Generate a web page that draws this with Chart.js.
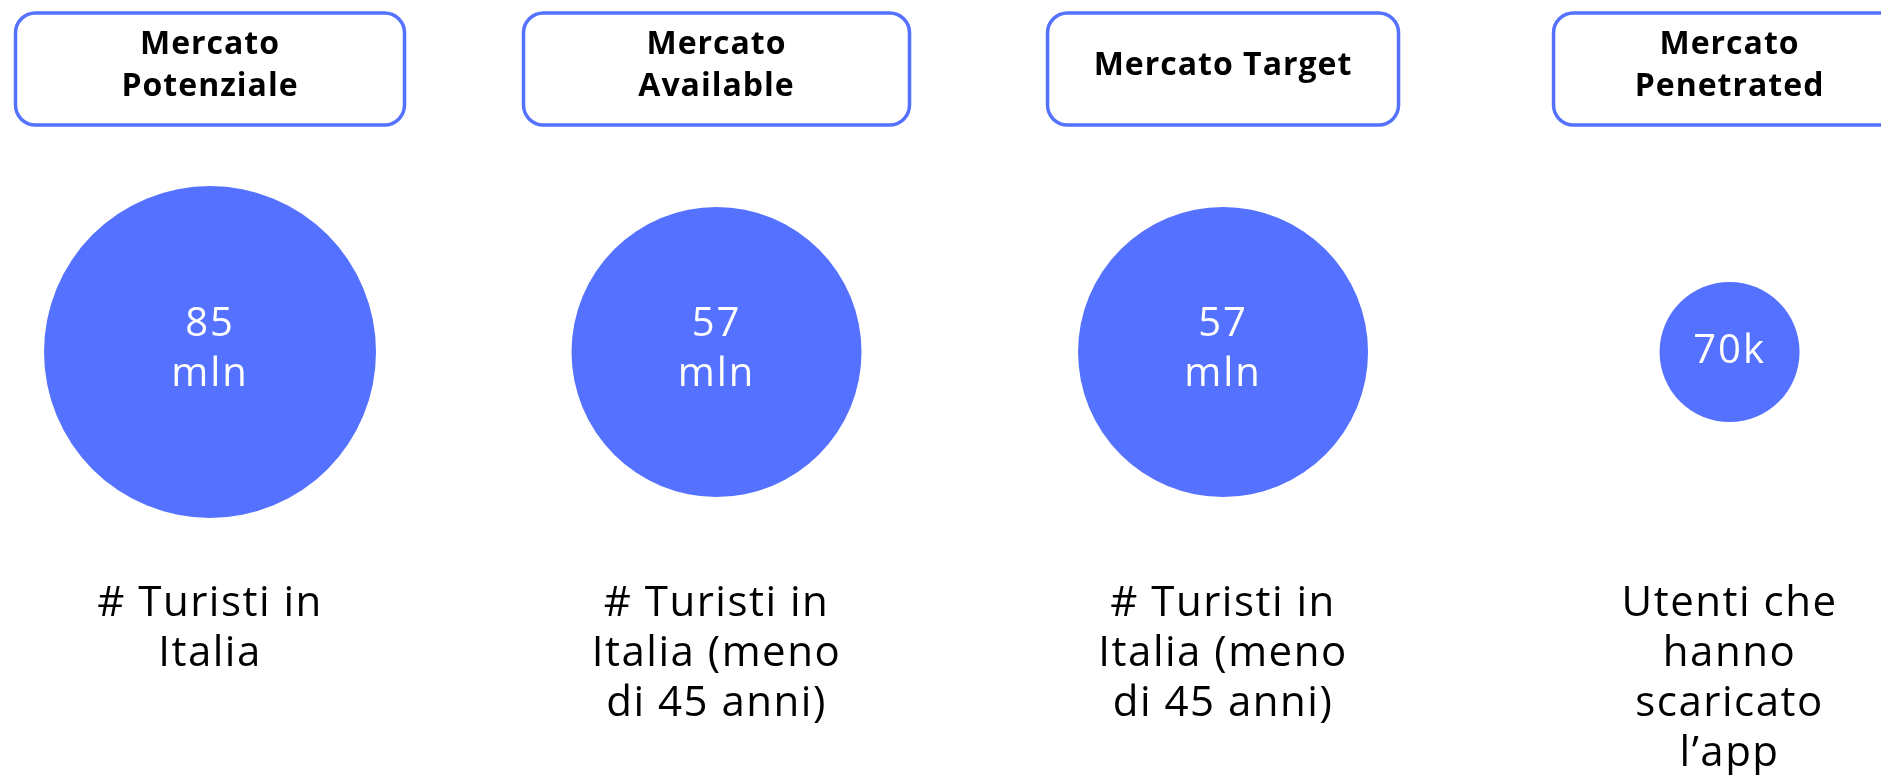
<!DOCTYPE html>
<html>
<head>
<meta charset="utf-8">
<script src="https://cdn.jsdelivr.net/npm/chart.js"></script>
<style>
  html, body { margin: 0; padding: 0; background: #ffffff; }
  #wrap { width: 1881px; height: 775px; }
</style>
</head>
<body>
<div id="wrap"><canvas id="funnel" width="1881" height="775"></canvas></div>
<script>
// Market sizing (TAM / SAM / SOM / penetrated) shown as bubbles

const categories = ['Mercato Potenziale', 'Mercato Available', 'Mercato Target', 'Mercato Penetrated'];
const headerLines = [['Mercato', 'Potenziale'], ['Mercato', 'Available'], ['Mercato Target'], ['Mercato', 'Penetrated']];
const marketSizeMln = [85, 57, 57, 0.07];
const valueLabels = [['85', 'mln'], ['57', 'mln'], ['57', 'mln'], ['70k']];
const bubbleRadius = [166, 145, 145, 70];
const descriptions = [
    ['# Turisti in', 'Italia'],
    ['# Turisti in', 'Italia (meno', 'di 45 anni)'],
    ['# Turisti in', 'Italia (meno', 'di 45 anni)'],
    ['Utenti che', 'hanno', 'scaricato', 'l\u2019app']
];

const BLUE = '#5571ff';
const FONT = '"Open Sans", "Noto Sans", sans-serif';
const boxWidths = [389, 386, 351, 352]; // header box widths in px

// Draws header boxes, values inside bubbles and the descriptions below
const labelsPlugin = {
    id: 'marketLabels',
    afterDatasetsDraw(chart) {
        const ctx = chart.ctx;
        const xScale = chart.scales.x;
        const meta = chart.getDatasetMeta(0);
        ctx.save();
        ctx.textAlign = 'center';
        ctx.textBaseline = 'middle';

        categories.forEach((cat, i) => {
            const cx = xScale.getPixelForValue(i);

            // header box
            const w = boxWidths[i];
            ctx.beginPath();
            ctx.roundRect(cx - w / 2, 13, w, 112, 20);
            ctx.fillStyle = '#ffffff';
            ctx.fill();
            ctx.lineWidth = 3.5;
            ctx.strokeStyle = BLUE;
            ctx.stroke();

            ctx.fillStyle = '#000000';
            ctx.font = 'bold 32px ' + FONT;
            ctx.letterSpacing = '1px';
            const hl = headerLines[i];
            if (hl.length === 1) {
                ctx.fillText(hl[0], cx, 66);
            } else {
                hl.forEach((line, k) => ctx.fillText(line, cx, 45 + k * 42));
            }

            // value inside bubble
            const pt = meta.data[i];
            ctx.fillStyle = '#ffffff';
            ctx.font = '40px ' + FONT;
            ctx.letterSpacing = '2px';
            const vl = valueLabels[i];
            if (vl.length === 1) {
                ctx.fillText(vl[0], pt.x, pt.y);
            } else {
                vl.forEach((line, k) => ctx.fillText(line, pt.x, pt.y - 27 + k * 50));
            }

            // description
            ctx.fillStyle = '#000000';
            ctx.font = '42px ' + FONT;
            ctx.letterSpacing = '1.5px';
            descriptions[i].forEach((line, k) => ctx.fillText(line, cx, 604 + k * 50));
        });
        ctx.restore();
    }
};

new Chart(document.getElementById('funnel'), {
    type: 'bubble',
    data: {
        datasets: [{
            label: 'Dimensione mercato (mln)',
            data: categories.map((c, i) => ({ x: i, y: 0, r: bubbleRadius[i], v: marketSizeMln[i] })),
            backgroundColor: BLUE,
            borderWidth: 0,
            hoverRadius: 0
        }]
    },
    options: {
        responsive: false,
        animation: false,
        events: [],
        layout: { autoPadding: false, padding: { left: 0, right: 0, top: 0, bottom: 71 } },
        plugins: {
            legend: { display: false },
            tooltip: { enabled: false }
        },
        scales: {
            x: { type: 'linear', display: false, min: -0.4146, max: 3.299 },
            y: { type: 'linear', display: false, min: -1, max: 1 }
        }
    },
    plugins: [labelsPlugin]
});
</script>
</body>
</html>
